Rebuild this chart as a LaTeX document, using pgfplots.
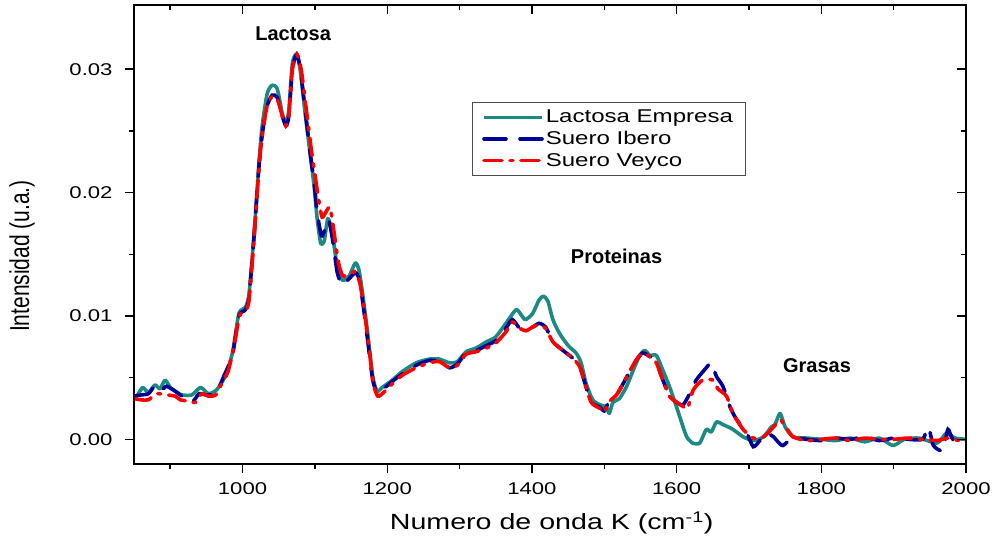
\documentclass[border=0pt]{standalone}
\usepackage{graphicx}
\usepackage{pgfplots}
\pgfplotsset{compat=1.18}
\usepackage{fontspec}
\setmainfont{Liberation Sans}[FakeStretch=1.3]
\newfontfamily\plainfont{Liberation Sans}
\definecolor{cteal}{RGB}{26,138,130}
\definecolor{cblue}{RGB}{0,0,150}
\definecolor{cred}{RGB}{255,0,0}

\pgfplotstableread{
x y
850 0.0033
855 0.0036
862 0.0042
870 0.0038
879 0.0044
886 0.0041
893 0.0048
900 0.0042
907 0.0039
916 0.0036
930 0.0036
942 0.0042
953 0.0037
964 0.0040
976 0.0051
986 0.0070
995 0.0102
1004 0.0107
1009 0.0118
1016 0.0167
1023 0.0226
1027 0.0253
1034 0.0280
1041 0.0287
1048 0.0284
1055 0.0264
1060 0.0256
1064 0.0267
1069 0.0305
1075 0.0312
1080 0.0298
1087 0.0262
1094 0.0229
1099 0.0205
1103 0.0180
1108 0.0159
1113 0.0161
1118 0.0179
1124 0.0167
1131 0.0140
1138 0.0129
1147 0.0132
1156 0.0143
1161 0.0137
1166 0.0118
1173 0.0086
1180 0.0051
1186 0.0039
1193 0.0042
1207 0.0048
1221 0.0055
1240 0.0062
1258 0.0065
1272 0.0065
1286 0.0062
1297 0.0063
1309 0.0071
1323 0.0074
1337 0.0079
1350 0.0083
1364 0.0094
1378 0.0105
1385 0.0101
1391 0.0097
1401 0.0102
1410 0.0113
1416 0.0116
1422 0.0112
1429 0.0097
1438 0.0086
1450 0.0076
1461 0.0070
1468 0.0062
1475 0.0045
1484 0.0032
1494 0.0028
1503 0.0026
1507 0.0021
1512 0.0030
1521 0.0033
1531 0.0043
1540 0.0056
1549 0.0068
1556 0.0072
1563 0.0068
1572 0.0068
1581 0.0056
1590 0.0043
1600 0.0026
1609 0.0010
1614 0.0002
1622 -0.0003
1632 -0.0003
1641 0.0008
1648 0.0006
1655 0.0014
1664 0.0012
1678 0.0008
1692 0.0002
1706 -0.0001
1720 0.0002
1731 0.0010
1736 0.0012
1743 0.0021
1750 0.0010
1761 0.0002
1780 0.0001
1800 0.0000
1820 -0.0001
1840 0.0001
1860 -0.0002
1880 0.0001
1899 -0.0005
1915 0.0000
1935 0.0001
1960 -0.0003
1973 0.0005
1985 0.0001
2000 0.0000
}\tealdata

\pgfplotstableread{
x y
850 0.0035
860 0.0036
870 0.0037
880 0.0044
888 0.0040
895 0.0043
907 0.0039
916 0.0035
930 0.0030
940 0.0037
949 0.0036
963 0.0037
974 0.0051
986 0.0068
995 0.0100
1004 0.0105
1009 0.0115
1016 0.0165
1023 0.0223
1028 0.0250
1034 0.0270
1041 0.0279
1048 0.0277
1055 0.0262
1060 0.0254
1064 0.0262
1069 0.0300
1075 0.0312
1080 0.0300
1087 0.0265
1094 0.0230
1099 0.0208
1103 0.0185
1109 0.0165
1114 0.0170
1119 0.0178
1125 0.0160
1131 0.0135
1138 0.0125
1147 0.0130
1156 0.0135
1161 0.0130
1166 0.0112
1173 0.0080
1180 0.0048
1186 0.0038
1193 0.0040
1207 0.0047
1221 0.0053
1240 0.0060
1258 0.0064
1272 0.0063
1286 0.0058
1297 0.0061
1309 0.0070
1323 0.0072
1337 0.0076
1350 0.0080
1364 0.0090
1373 0.0097
1383 0.0090
1392 0.0089
1401 0.0091
1410 0.0094
1419 0.0091
1429 0.0079
1443 0.0072
1456 0.0066
1466 0.0059
1473 0.0046
1482 0.0030
1494 0.0026
1500 0.0023
1506 0.0030
1517 0.0036
1526 0.0045
1535 0.0055
1544 0.0064
1553 0.0070
1563 0.0067
1572 0.0062
1581 0.0048
1590 0.0036
1600 0.0030
1609 0.0028
1618 0.0037
1627 0.0048
1641 0.0058
1648 0.0062
1655 0.0051
1664 0.0043
1674 0.0026
1683 0.0016
1697 0.0005
1706 -0.0006
1715 -0.0001
1724 0.0005
1734 0.0002
1740 -0.0002
1747 -0.0005
1760 0.0001
1780 0.0000
1800 -0.0001
1820 0.0001
1840 0.0000
1860 0.0002
1880 -0.0001
1900 0.0001
1920 0.0000
1940 0.0000
1948 0.0010
1955 -0.0005
1968 -0.0009
1975 0.0008
1982 0.0000
2000 0.0001
}\bluedata

\pgfplotstableread{
x y
850 0.0033
860 0.0032
870 0.0032
881 0.0037
895 0.0036
907 0.0035
914 0.0032
925 0.0031
935 0.0030
944 0.0037
953 0.0035
963 0.0036
971 0.0045
980 0.0055
988 0.0075
996 0.0100
1004 0.0104
1009 0.0113
1016 0.0163
1023 0.0222
1028 0.0250
1034 0.0270
1041 0.0278
1048 0.0276
1055 0.0262
1060 0.0254
1064 0.0262
1069 0.0300
1075 0.0312
1081 0.0300
1088 0.0268
1095 0.0235
1100 0.0215
1105 0.0195
1110 0.0180
1116 0.0185
1121 0.0188
1126 0.0170
1132 0.0145
1138 0.0133
1147 0.0133
1155 0.0136
1161 0.0130
1167 0.0110
1174 0.0078
1181 0.0045
1187 0.0035
1195 0.0038
1207 0.0045
1221 0.0052
1240 0.0058
1258 0.0062
1272 0.0063
1286 0.0058
1297 0.0060
1309 0.0069
1323 0.0071
1337 0.0074
1350 0.0078
1364 0.0087
1373 0.0095
1383 0.0090
1392 0.0088
1401 0.0091
1410 0.0093
1419 0.0090
1429 0.0079
1443 0.0072
1456 0.0066
1466 0.0059
1473 0.0046
1482 0.0030
1494 0.0025
1500 0.0022
1506 0.0030
1517 0.0036
1526 0.0045
1535 0.0055
1544 0.0064
1553 0.0070
1563 0.0067
1572 0.0062
1581 0.0048
1590 0.0035
1600 0.0030
1608 0.0027
1615 0.0025
1623 0.0040
1636 0.0048
1650 0.0048
1657 0.0041
1669 0.0035
1678 0.0021
1692 0.0008
1706 0.0001
1720 0.0002
1734 0.0010
1743 0.0016
1752 0.0009
1761 0.0002
1780 -0.0001
1800 0.0000
1820 0.0001
1840 -0.0001
1860 0.0001
1880 0.0000
1900 0.0000
1920 0.0001
1940 0.0000
1960 -0.0001
1975 0.0001
1990 -0.0001
2000 -0.0003
}\reddata

\begin{document}
\begin{tikzpicture}
\pgfplotsset{
  common/.style={
    at={(0,0)}, anchor=south west,
    width=832bp, height=459bp, scale only axis,
    xmin=850, xmax=2000, ymin=-0.002, ymax=0.0352,
    xtick={1000,1200,...,2000}, minor xtick={900,1100,...,1900},
    ytick={0,0.01,0.02,0.03}, minor ytick={0.005,0.015,0.025},
    axis line style={line width=1.8bp},
    major tick length=9bp, minor tick length=5bp,
    tick style={line width=1.4bp, black},
    scaled y ticks=false,
    /pgf/number format/assume math mode=true,
  }
}
\begin{axis}[common,
  tick align=outside, xtick pos=left, ytick pos=left,
  ticklabel style={font=\fontsize{17bp}{20bp}\selectfont},
  y tick label style={xshift=-9bp, /pgf/number format/fixed, /pgf/number format/fixed zerofill, /pgf/number format/precision=2},
  x tick label style={yshift=-6bp, /pgf/number format/1000 sep={}},
  xlabel={Numero de onda K (cm\textsuperscript{-1})},
  xlabel style={font=\fontsize{22bp}{26bp}\selectfont, at={(axis description cs:0.502,-0.1285)}, anchor=center},
  ylabel={\scalebox{1}[1.3]{Intensidad (u.a.)}},
  ylabel style={font=\plainfont\fontsize{21bp}{24bp}\selectfont, at={(axis description cs:-0.1346,0.453)}, anchor=center},
  legend style={at={(axis description cs:0.406,0.789)}, anchor=north west, draw=black!70, line width=0.8bp,
    font=\fontsize{18.5bp}{22bp}\selectfont, inner xsep=10bp, inner ysep=6bp, row sep=3bp,
    nodes={inner sep=2bp}},
  legend cell align=left,
  legend image code/.code={\draw[#1] (0bp,0bp) -- (58bp,0bp);},
]
\addplot[cteal, line width=3.6bp, line join=round, smooth, tension=0.4] table {\tealdata};
\addlegendentry{Lactosa Empresa}
\addplot[cblue, line width=3.6bp, line cap=round, smooth, tension=0.4, dash pattern=on 22bp off 14bp] table {\bluedata};
\addlegendentry{Suero Ibero}
\addplot[cred, line width=3.6bp, line cap=round, smooth, tension=0.4, dash pattern=on 18bp off 8bp on 3bp off 8bp] table {\reddata};
\addlegendentry{Suero Veyco}
\node[font=\plainfont\bfseries\fontsize{20bp}{24bp}\selectfont] at (axis cs:1070,0.0329) {Lactosa};
\node[font=\plainfont\bfseries\fontsize{20bp}{24bp}\selectfont] at (axis cs:1517,0.01485) {Proteinas};
\node[font=\plainfont\bfseries\fontsize{20bp}{24bp}\selectfont] at (axis cs:1794,0.00594) {Grasas};
\end{axis}
\begin{axis}[common,
  tick align=inside, xtick pos=right, ytick pos=right,
  xticklabels={}, yticklabels={},
]
\end{axis}
\pgfresetboundingbox
\path[use as bounding box] (-134bp,-76bp) rectangle (861bp,464bp);
\end{tikzpicture}
\end{document}
